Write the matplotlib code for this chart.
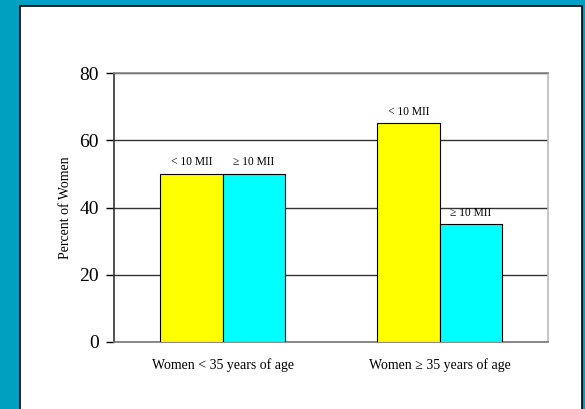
import matplotlib.pyplot as plt
from matplotlib.patches import Rectangle
import numpy as np

# datos
categorias = ['Women < 35 years of age', 'Women \u2265 35 years of age']
menos_10 = [50, 65]
mas_10 = [50, 35]
etiqueta_menos = '< 10 MII'
etiqueta_mas = '\u2265 10 MII'
yticks = [0, 20, 40, 60, 80]

plt.rcParams['font.family'] = ['Liberation Serif', 'DejaVu Serif']

fig = plt.figure(figsize=(5.85, 4.09), dpi=100, facecolor='#00A0C0')

# panel blanco con borde
panel = Rectangle((20 / 585, -0.01), 562 / 585, 403 / 409 + 0.01, transform=fig.transFigure,
                  facecolor='white', edgecolor='black', linewidth=1.2, zorder=-1)
fig.add_artist(panel)

ax = fig.add_axes([114 / 585, 67 / 409, 434 / 585, 269 / 409])
ax.set_zorder(2)
ax.set_facecolor('none')

x = np.arange(len(categorias))
w = 0.286
ax.bar(x - w / 2, menos_10, w, color='#FFFF00', edgecolor='black', linewidth=0.8, zorder=3)
ax.bar(x + w / 2, mas_10, w, color='#00FFFF', edgecolor='black', linewidth=0.8, zorder=3)

for i in range(len(categorias)):
    ax.annotate(etiqueta_menos, (x[i] - w / 2, menos_10[i]), xytext=(0, 4),
                textcoords='offset points', ha='center', va='bottom', fontsize=8.3)
    ax.annotate(etiqueta_mas, (x[i] + w / 2, mas_10[i]), xytext=(0, 4),
                textcoords='offset points', ha='center', va='bottom', fontsize=8.3)

ax.set_xlim(-0.5, 1.5)
ax.set_ylim(0, 80)
ax.set_yticks(yticks)
ax.set_yticklabels([str(v) for v in yticks], fontsize=14)
ax.set_xticks(x)
ax.set_xticklabels(categorias, fontsize=10)
ax.tick_params(axis='x', length=0, pad=12)
ax.tick_params(axis='y', length=6, width=1, pad=5, direction='out')

ax.yaxis.grid(True, color='#333333', linewidth=1, zorder=0)
ax.set_axisbelow(True)

ax.spines['left'].set_color('#333333')
ax.spines['bottom'].set_color('#777777')
ax.spines['top'].set_color('#888888')
ax.spines['right'].set_color('#BBBBBB')
for s in ax.spines.values():
    s.set_linewidth(1.2)

ax.set_ylabel('Percent of Women', fontsize=10, labelpad=5)

fig.savefig('out.png', dpi=100, facecolor=fig.get_facecolor())
